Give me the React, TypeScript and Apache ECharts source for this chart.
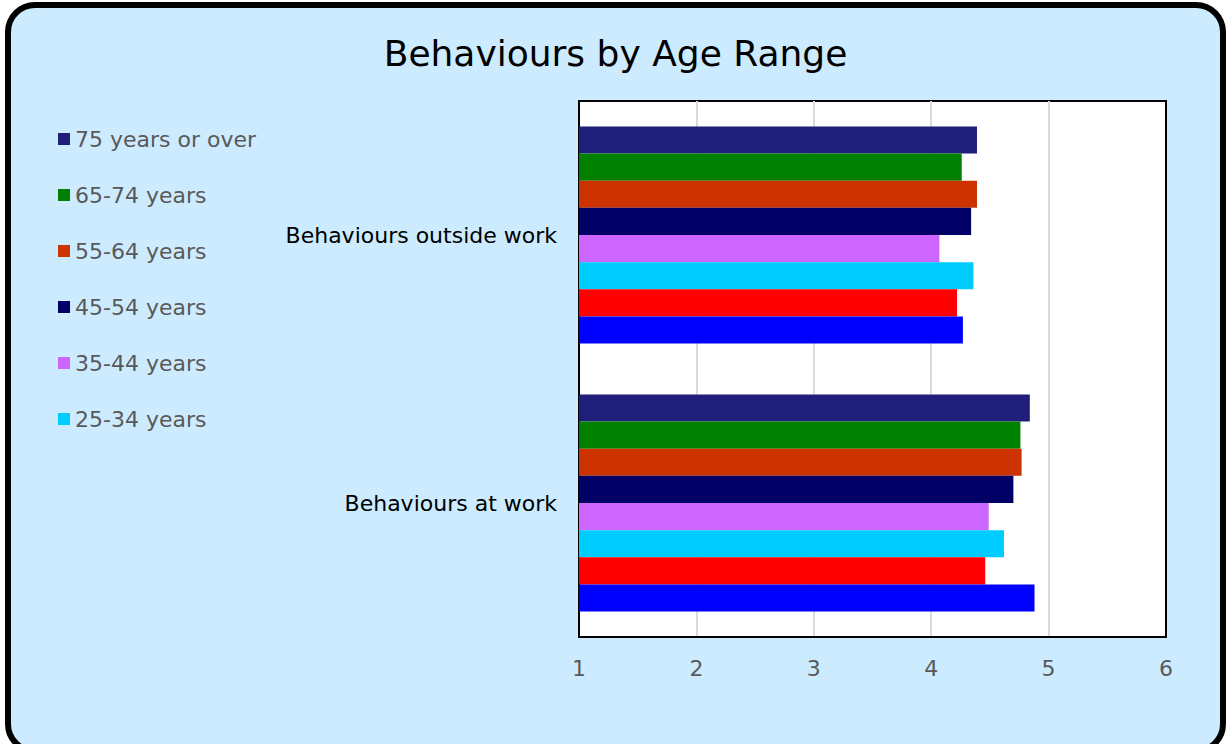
import React, { useEffect, useRef } from "react";
import * as echarts from "echarts";

const TITLE = "Behaviours by Age Range";
const categories = ["Behaviours outside work", "Behaviours at work"];
const seriesNames = [
  "75 years or over",
  "65-74 years",
  "55-64 years",
  "45-54 years",
  "35-44 years",
  "25-34 years",
  "18-24 years",
  "16-17 years",
];
const legendNames = seriesNames.slice(0, 6);
const colors = ["#1F1F7A", "#008000", "#CC3300", "#000066", "#CC66FF", "#00CCFF", "#FF0000", "#0000FF"];
// values per series: [outside work, at work]
const values75 = [4.39, 4.84];
const values65 = [4.26, 4.76];
const values55 = [4.39, 4.77];
const values45 = [4.34, 4.70];
const values35 = [4.07, 4.49];
const values25 = [4.36, 4.62];
const values18 = [4.22, 4.46];
const values16 = [4.27, 4.88];
const seriesValues = [values75, values65, values55, values45, values35, values25, values18, values16];
const xTicks = [1, 2, 3, 4, 5, 6];

const FONT = "DejaVu Sans";

export default function App() {
  const ref = useRef<HTMLDivElement>(null);
  useEffect(() => {
    if (!ref.current) return;
    const chart = echarts.init(ref.current, undefined, { renderer: "svg" });
    chart.setOption({
      animation: false,
      textStyle: { fontFamily: FONT },
      title: {
        text: TITLE,
        left: "center",
        top: 30,
        textStyle: { fontFamily: FONT, fontSize: 36, fontWeight: "normal", color: "#000" },
      },
      legend: {
        data: legendNames,
        orient: "vertical",
        left: 53,
        top: 123,
        icon: "rect",
        itemWidth: 12,
        itemHeight: 12,
        itemGap: 34,
        textStyle: { fontFamily: FONT, fontSize: 22, color: "#595959", lineHeight: 22 },
      },
      grid: {
        left: 579,
        top: 101,
        right: 65,
        bottom: 107,
        show: true,
        backgroundColor: "#FFFFFF",
        borderColor: "#000000",
        borderWidth: 2,
      },
      xAxis: {
        type: "value",
        min: xTicks[0],
        max: xTicks[xTicks.length - 1],
        interval: 1,
        axisLine: { show: true, lineStyle: { color: "#000", width: 2 } },
        axisTick: { show: false },
        axisLabel: { color: "#595959", fontSize: 22, fontFamily: FONT, margin: 20 },
        splitLine: { show: true, lineStyle: { color: "#D9D9D9", width: 2 } },
      },
      yAxis: [
        {
          type: "category",
          data: categories,
          inverse: true,
          axisLine: { show: true, lineStyle: { color: "#000", width: 2 } },
          axisTick: { show: false },
          axisLabel: { color: "#000", fontSize: 22, fontFamily: FONT, margin: 22 },
        },
        {
          type: "category",
          data: categories,
          inverse: true,
          position: "right",
          axisLine: { show: true, onZero: false, lineStyle: { color: "#000", width: 2 } },
          axisTick: { show: false },
          axisLabel: { show: false },
          splitLine: { show: false },
        },
      ],
      series: seriesNames.map((name, i) => ({
        name,
        type: "bar",
        yAxisIndex: 0,
        data: seriesValues[i],
        barGap: "0%",
        barCategoryGap: "19%",
        itemStyle: { color: colors[i] },
      })),
    });
    return () => chart.dispose();
  }, []);
  return (
    <div style={{ position: "absolute", left: 0, top: 0, width: 1231, height: 744, overflow: "hidden", background: "#FFFFFF" }}>
      <div
        style={{
          position: "absolute",
          left: 5,
          top: 2,
          width: 1221,
          height: 752,
          boxSizing: "border-box",
          border: "6px solid #000",
          borderRadius: 30,
          background: "#CCEBFF",
        }}
      />
      <div ref={ref} style={{ position: "absolute", left: 0, top: 0, width: 1231, height: 744 }} />
    </div>
  );
}
